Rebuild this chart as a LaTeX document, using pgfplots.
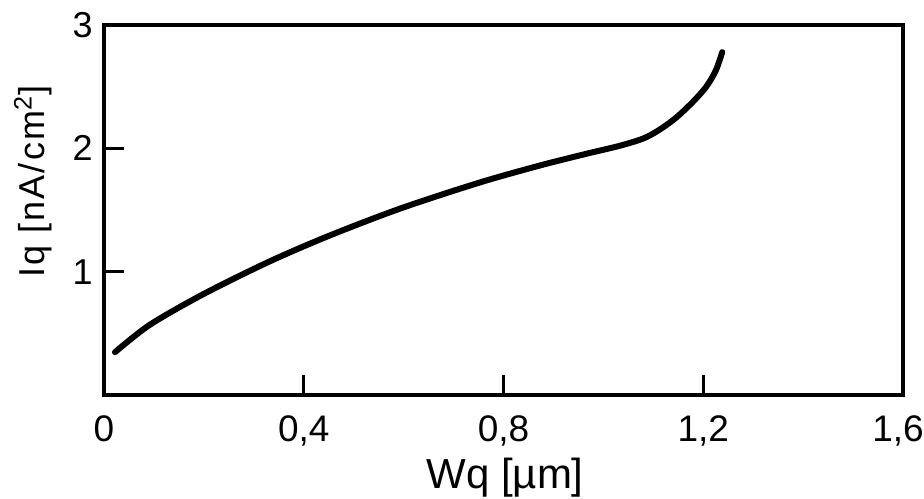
\documentclass[border=0pt]{standalone}
\usepackage{pgfplots}
\pgfplotsset{compat=1.18}
\usepackage{fontspec}
\setmainfont{Liberation Sans}
\newfontfamily\spaced[LetterSpace=6]{Liberation Sans}
\begin{document}
\begin{tikzpicture}
\begin{axis}[
  name=ax,
  width=399.5pt, height=185pt,
  scale only axis,
  xmin=0, xmax=1.6, ymin=0, ymax=3,
  axis line style={line width=2pt, black},
  xtick={0,0.4,0.8,1.2},
  xticklabels={0,{0{,}4},{0{,}8},{1{,}2}},
  extra x ticks={1.6},
  extra x tick labels={1{,}6},
  extra x tick style={xticklabel style={xshift=-2.5pt}},
  ytick={1,2,3},
  yticklabels={1,2,3},
  xtick pos=bottom, ytick pos=left,
  tick align=inside,
  major tick length=10pt,
  tick style={line width=1.4pt, black},
  xticklabel style={font=\fontsize{18.5}{21}\selectfont, anchor=north, inner sep=0pt, yshift=-10pt},
  yticklabel style={font=\fontsize{18}{20}\selectfont, anchor=east, inner sep=0pt, xshift=-5.5pt},
  xlabel={Wq [µm]},
  xlabel style={font=\fontsize{21}{23}\selectfont, at={(axis description cs:0.502,-0.224)}, anchor=center},
  ylabel={\spaced Iq [nA/cm\textsuperscript{2}]},
  ylabel style={font=\fontsize{18}{20}\selectfont, at={(axis description cs:-0.089,0.576)}, anchor=center},
  clip=false,
]
\addplot[black, line width=3pt, line cap=round, smooth] coordinates {
(0.022,0.347) (0.092,0.57) (0.20,0.82) (0.33,1.08) (0.45,1.29) (0.592,1.51)
(0.75,1.72) (0.872,1.86) (0.96,1.95) (1.032,2.02) (1.08,2.08) (1.112,2.15)
(1.146,2.25) (1.18,2.38) (1.206,2.50) (1.225,2.63) (1.238,2.78)
};
\coordinate (bl) at (rel axis cs:0,0);
\coordinate (tr) at (rel axis cs:1,1);
\end{axis}
\pgfresetboundingbox
\path ([shift={(-52pt,-51.5pt)}]bl) rectangle ([shift={(10.5pt,12.5pt)}]tr);
\end{tikzpicture}
\end{document}
